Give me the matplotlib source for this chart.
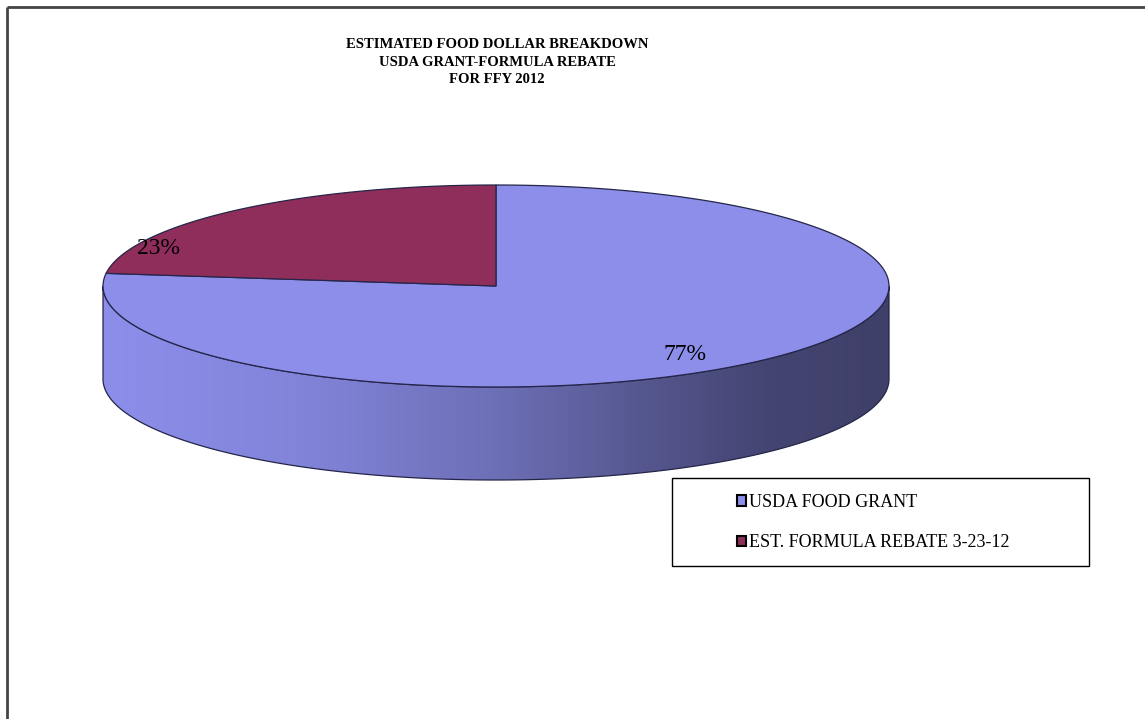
import numpy as np
import matplotlib
matplotlib.use('Agg')
import matplotlib.pyplot as plt
from matplotlib.patches import Polygon, Rectangle
from matplotlib.colors import to_rgb

# data
labels = ['USDA FOOD GRANT', 'EST. FORMULA REBATE 3-23-12']
shares = [77, 23]
pct_text = ['77%', '23%']
colors = ['#8c8eea', '#8f2e5a']
title = 'ESTIMATED FOOD DOLLAR BREAKDOWN\nUSDA GRANT-FORMULA REBATE\nFOR FFY 2012'

plt.rcParams['font.family'] = ['Liberation Serif', 'DejaVu Serif']

fig = plt.figure(figsize=(11.45, 7.19), dpi=100)
ax = fig.add_axes([0, 0, 1, 1])
ax.set_xlim(0, 1145)
ax.set_ylim(719, 0)
ax.axis('off')

# pie geometry (pixels)
cx, cy, rx, ry, depth = 496, 286, 393, 101, 93
edge = '#25254a'


def arc(a, b, n=200, dy=0):
    t = np.radians(np.linspace(a, b, n))
    return np.column_stack([cx + rx * np.cos(t), cy - ry * np.sin(t) + dy])


# slice angles, start at 12 o'clock, clockwise
frac = np.array(shares, dtype=float) / sum(shares)
bounds = 90 - 360 * np.concatenate([[0], np.cumsum(frac)])

# side shading from left to right
shade_x = [0, 0.25, 0.5, 0.7, 0.85, 1.0]
shade_f = [1.0, 0.93, 0.78, 0.6, 0.48, 0.45]
xs = np.linspace(cx - rx, cx + rx, 400)
fac = np.interp((xs - xs[0]) / (xs[-1] - xs[0]), shade_x, shade_f)

for i in range(len(shares)):
    a, b = bounds[i + 1], bounds[i]  # a < b
    # front half is 180..360 (mod 360)
    for k in (-1, 0, 1):
        lo = max(a, 180 + 360 * k)
        hi = min(b, 360 + 360 * k)
        if hi <= lo:
            continue
        top = arc(lo, hi)
        bot = arc(hi, lo, dy=depth)
        pts = np.vstack([top, bot])
        poly = Polygon(pts, closed=True, facecolor='none', edgecolor='none')
        ax.add_patch(poly)
        img = np.array(to_rgb(colors[i]))[None, None, :] * fac[None, :, None]
        im = ax.imshow(img, extent=(xs[0], xs[-1], cy + ry + depth + 5, cy - 5),
                       aspect='auto', interpolation='bilinear', zorder=1)
        im.set_clip_path(poly)
        ax.add_patch(Polygon(pts, closed=True, facecolor='none',
                             edgecolor=edge, lw=0.9, zorder=2))

# top faces
for i in range(len(shares)):
    pts = np.vstack([[cx, cy], arc(bounds[i], bounds[i + 1])])
    ax.add_patch(Polygon(pts, closed=True, facecolor=colors[i],
                         edgecolor=edge, lw=0.9, zorder=3))

# percent labels
label_pos = [(685, 355), (158, 249)]
for txt, (x, y) in zip(pct_text, label_pos):
    ax.text(x, y, txt, ha='center', va='center', fontsize=17, zorder=5)

ax.text(497, 62, title, ha='center', va='center', fontsize=10.5,
        fontweight='bold', linespacing=1.45)

# legend
ax.add_patch(Rectangle((672, 478), 417, 88, facecolor='white',
                       edgecolor='black', lw=1, zorder=4))
handles = [Rectangle((0, 0), 1, 1, facecolor=c, edgecolor='black', lw=1.5)
           for c in colors]
ax.legend(handles, labels, loc='upper left', bbox_to_anchor=(717, 474),
          bbox_transform=ax.transData, frameon=False, fontsize=13,
          handlelength=0.5, handleheight=0.5, handletextpad=0.15,
          labelspacing=1.3, borderpad=0.6)

# outer frame (top and left only)
ax.plot([7, 1145], [7, 7], color='#444444', lw=2, solid_capstyle='butt')
ax.plot([7, 7], [7, 719], color='#444444', lw=2, solid_capstyle='butt')

fig.savefig('out.png', dpi=100)
